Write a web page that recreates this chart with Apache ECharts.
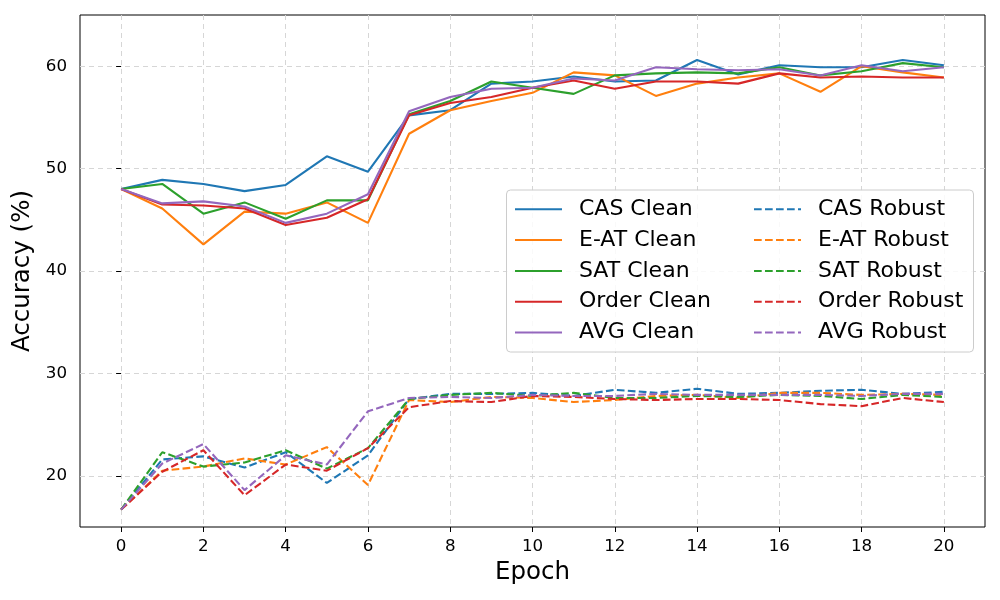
<!DOCTYPE html>
<html>
<head>
<meta charset="utf-8">
<script src="https://cdn.jsdelivr.net/npm/echarts@6/dist/echarts.min.js"></script>
<style>html,body{margin:0;padding:0;background:#fff}#c{width:1000px;height:600px}</style>
</head>
<body>
<div id="c"></div>
<script>
const epochs = [0,1,2,3,4,5,6,7,8,9,10,11,12,13,14,15,16,17,18,19,20];
const xTicks = [0,2,4,6,8,10,12,14,16,18,20];
const yTicks = [20,30,40,50,60];

const casClean   = [48.0,48.9,48.5,47.8,48.4,51.2,49.7,55.2,55.7,58.3,58.5,59.0,58.5,58.6,60.6,59.2,60.1,59.9,59.9,60.6,60.1];
const eatClean   = [48.0,46.1,42.6,45.8,45.6,46.7,44.7,53.4,55.7,56.6,57.4,59.4,59.1,57.1,58.3,58.9,59.3,57.5,60.0,59.4,58.9];
const satClean   = [48.0,48.5,45.6,46.7,45.1,46.9,46.9,55.3,56.6,58.5,57.9,57.3,59.1,59.3,59.4,59.3,59.9,59.1,59.5,60.3,59.9];
const orderClean = [48.0,46.5,46.4,46.1,44.5,45.2,47.0,55.2,56.4,57.0,57.9,58.6,57.8,58.5,58.5,58.3,59.3,58.9,59.0,58.9,58.9];
const avgClean   = [48.0,46.6,46.8,46.3,44.7,45.6,47.5,55.6,57.0,57.8,57.9,58.8,58.6,59.9,59.7,59.6,59.7,59.1,60.1,59.5,59.9];

const casRobust   = [16.7,21.6,21.9,20.8,22.3,19.3,22.0,27.5,28.0,28.0,28.1,27.8,28.4,28.1,28.5,28.0,28.1,28.3,28.4,28.0,28.2];
const eatRobust   = [16.7,20.5,20.9,21.7,21.1,22.8,19.1,27.4,27.2,27.7,27.6,27.2,27.4,27.8,27.9,27.6,28.1,28.1,27.9,28.0,27.9];
const satRobust   = [16.7,22.3,20.9,21.3,22.5,20.7,22.7,27.5,27.9,28.1,27.8,28.1,27.6,27.6,27.8,27.7,27.9,27.8,27.5,27.9,27.7];
const orderRobust = [16.7,20.4,22.5,18.1,21.1,20.5,22.7,26.7,27.3,27.2,27.8,27.7,27.5,27.4,27.5,27.5,27.4,27.0,26.8,27.6,27.2];
const avgRobust   = [16.7,21.2,23.1,18.6,22.0,21.1,26.3,27.6,27.7,27.6,27.9,27.8,27.8,28.0,27.9,27.9,27.9,27.9,27.8,28.0,28.0];

const names = ['CAS','E-AT','SAT','Order','AVG'];
const colors = ['#1f77b4','#ff7f0e','#2ca02c','#d62728','#9467bd'];
const cleanData = [casClean,eatClean,satClean,orderClean,avgClean];
const robustData = [casRobust,eatRobust,satRobust,orderRobust,avgRobust];

const font = 'DejaVu Sans';
const series = [];
names.forEach((n,i)=>{
  series.push({name:n+' Clean', type:'line', data:epochs.map((e,k)=>[e,cleanData[i][k]]),
    showSymbol:false, symbol:'none', color:colors[i], lineStyle:{width:2.1,color:colors[i]}, z:2});
});
names.forEach((n,i)=>{
  series.push({name:n+' Robust', type:'line', data:epochs.map((e,k)=>[e,robustData[i][k]]),
    showSymbol:false, symbol:'none', color:colors[i], lineStyle:{width:2.1,color:colors[i],type:[7.7,3.3]}, z:2});
});

const legendCommon = {orient:'vertical', itemWidth:47, itemHeight:14, itemGap:8.8, padding:0,
  itemStyle:{opacity:0},
  textStyle:{fontFamily:font,fontSize:22,lineHeight:22,color:'#000',padding:[0,0,0,12]}, z:5};

const chart = echarts.init(document.getElementById('c'));
chart.setOption({
  animation:false,
  backgroundColor:'#fff',
  grid:{left:80,right:15,top:15,bottom:73,show:true,borderColor:'#000',borderWidth:1,backgroundColor:'transparent'},
  xAxis:{type:'value',min:-1,max:21,
    name:'Epoch',nameLocation:'middle',nameGap:33,nameTextStyle:{fontFamily:font,fontSize:24.5,color:'#000'},
    axisLine:{show:false},
    axisTick:{show:true,length:5,lineStyle:{color:'#000'},customValues:xTicks},
    axisLabel:{fontFamily:font,fontSize:16.7,color:'#000',margin:11,customValues:xTicks},
    splitLine:{show:true,lineStyle:{color:'#d6d6d6',type:[5,4],width:1}}
  },
  yAxis:{type:'value',min:15,max:65,
    name:'Accuracy (%)',nameLocation:'middle',nameGap:42,nameTextStyle:{fontFamily:font,fontSize:24.5,color:'#000'},
    axisLine:{show:false},
    axisTick:{show:true,length:5,lineStyle:{color:'#000'},customValues:yTicks},
    axisLabel:{fontFamily:font,fontSize:16.7,color:'#000',margin:13,customValues:yTicks},
    splitLine:{show:true,lineStyle:{color:'#d6d6d6',type:[5,4],width:1}}
  },
  legend:[
    Object.assign({left:514,top:198.3,data:names.map(n=>n+' Clean')},legendCommon),
    Object.assign({left:753,top:198.3,data:names.map(n=>n+' Robust')},legendCommon)
  ],
  graphic:[{type:'rect',z:3,shape:{x:506.5,y:190,width:467,height:162,r:4},
    style:{fill:'rgba(255,255,255,0.85)',stroke:'#cccccc',lineWidth:1}}],
  series:series
});
</script>
</body>
</html>
